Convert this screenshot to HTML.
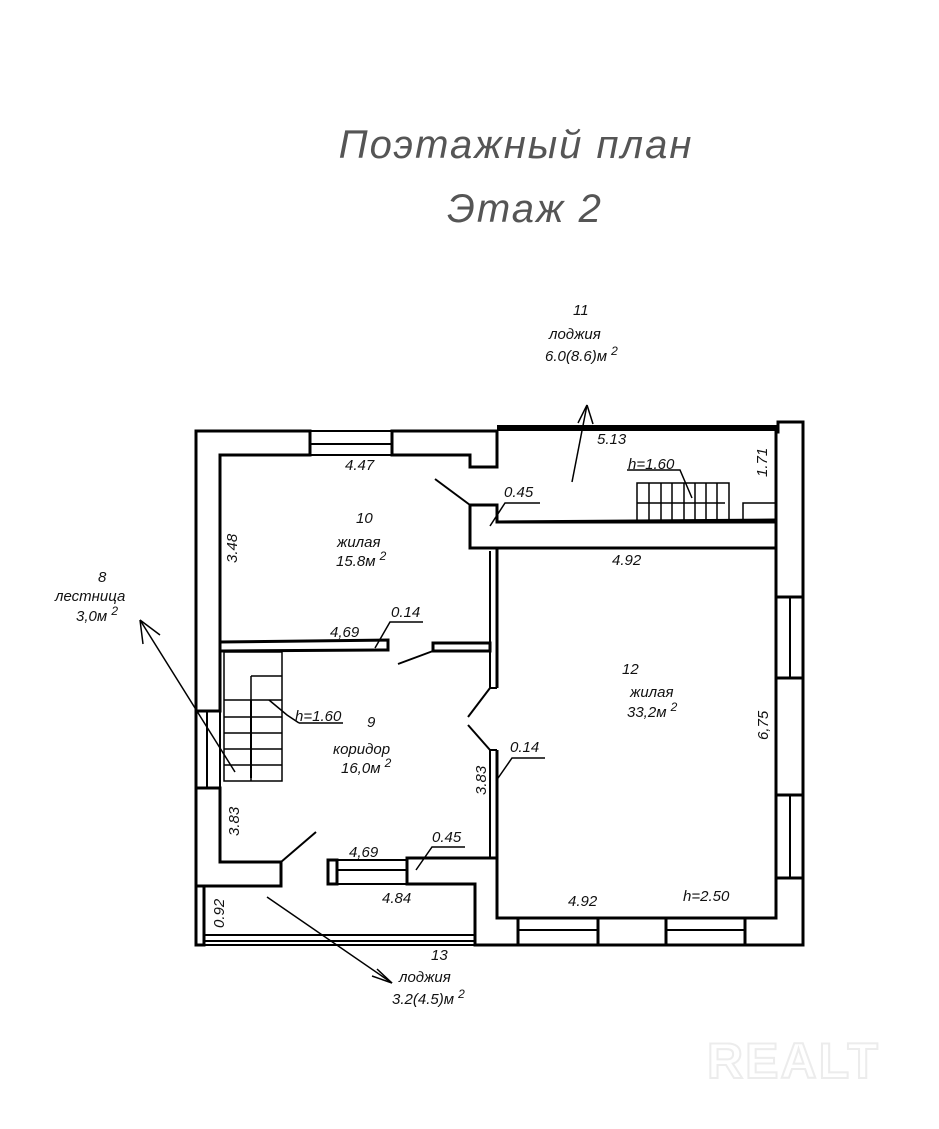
<!DOCTYPE html>
<html><head><meta charset="utf-8"><style>
html,body{margin:0;padding:0;background:#fff;}
svg{display:block;}
text{font-family:"Liberation Sans",sans-serif;font-style:italic;}
</style></head><body>
<svg width="939" height="1129" viewBox="0 0 939 1129" xmlns="http://www.w3.org/2000/svg">
<rect width="939" height="1129" fill="#fff"/>
<text x="516" y="158" font-size="40" text-anchor="middle" style="fill:#555;letter-spacing:2px">Поэтажный  план</text>
<text x="525" y="222" font-size="40" text-anchor="middle" style="fill:#555;letter-spacing:2px">Этаж 2</text>

<g fill="#fff" stroke="#000" stroke-width="3" stroke-linejoin="miter">
<polygon points="196,431 310,431 310,455 220,455 220,642 220,711 196,711"/>
<polygon points="392,431 497,431 497,467 470,467 470,455 392,455"/>
<polygon points="470,505 497,505 497,522 776,522 776,548 497,548 470,548"/>
<polygon points="778,422 803,422 803,597 776,597 776,548 776,522 776,432 778,432"/>
<polygon points="776,678 803,678 803,795 776,795"/>
<polygon points="776,878 803,878 803,945 745,945 745,918 776,918"/>
<polygon points="598,918 666,918 666,945 598,945"/>
<polygon points="407,858 497,858 497,918 518,918 518,945 475,945 475,884 407,884"/>
<polygon points="196,788 220,788 220,862 281,862 281,886 196,886"/>
<polygon points="196,886 204,886 204,945 196,945"/>
<polygon points="328,860 337,860 337,884 328,884"/>
<polygon points="220,642 388,640 388,650 220,651"/>
<polygon points="433,643 490,643 490,651 433,651"/>
</g>
<g stroke="#000" fill="none">
<line x1="497" y1="428" x2="778" y2="428" stroke-width="6"/>
<line x1="310" y1="431" x2="392" y2="431" stroke-width="2"/>
<line x1="310" y1="444" x2="392" y2="444" stroke-width="2"/>
<line x1="310" y1="455" x2="392" y2="455" stroke-width="2"/>
<line x1="490" y1="551" x2="490" y2="688" stroke-width="2"/>
<line x1="497" y1="548" x2="497" y2="688" stroke-width="3"/>
<line x1="490" y1="688" x2="497" y2="688" stroke-width="2"/>
<line x1="490" y1="750" x2="490" y2="858" stroke-width="2"/>
<line x1="497" y1="750" x2="497" y2="858" stroke-width="3"/>
<line x1="490" y1="750" x2="497" y2="750" stroke-width="2"/>
<line x1="497" y1="918" x2="776" y2="918" stroke-width="3"/>
<line x1="776" y1="597" x2="776" y2="678" stroke-width="3"/>
<line x1="790" y1="597" x2="790" y2="678" stroke-width="2"/>
<line x1="803" y1="597" x2="803" y2="678" stroke-width="3"/>
<line x1="776" y1="795" x2="776" y2="878" stroke-width="3"/>
<line x1="790" y1="795" x2="790" y2="878" stroke-width="2"/>
<line x1="803" y1="795" x2="803" y2="878" stroke-width="3"/>
<line x1="518" y1="930" x2="598" y2="930" stroke-width="2"/>
<line x1="518" y1="945" x2="598" y2="945" stroke-width="3"/>
<line x1="666" y1="930" x2="745" y2="930" stroke-width="2"/>
<line x1="666" y1="945" x2="745" y2="945" stroke-width="3"/>
<line x1="196" y1="711" x2="196" y2="788" stroke-width="3"/>
<line x1="207" y1="711" x2="207" y2="788" stroke-width="2"/>
<line x1="220" y1="711" x2="220" y2="788" stroke-width="2"/>
<line x1="204" y1="935" x2="475" y2="935" stroke-width="2"/>
<line x1="204" y1="941" x2="475" y2="941" stroke-width="2"/>
<line x1="196" y1="945" x2="475" y2="945" stroke-width="2"/>
<line x1="337" y1="870" x2="407" y2="870" stroke-width="2"/>
<line x1="337" y1="860" x2="407" y2="860" stroke-width="2"/>
<line x1="337" y1="884" x2="407" y2="884" stroke-width="2"/>
<line x1="497" y1="522" x2="776" y2="520" stroke-width="3"/>
<line x1="435" y1="479" x2="470" y2="505" stroke-width="2"/>
<line x1="398" y1="664" x2="433" y2="651" stroke-width="2"/>
<line x1="468" y1="717" x2="490" y2="688" stroke-width="2"/>
<line x1="468" y1="725" x2="490" y2="750" stroke-width="2"/>
<line x1="281" y1="862" x2="316" y2="832" stroke-width="2"/>
<rect x="224" y="652" width="58" height="129" stroke-width="1.5"/>
<line x1="251" y1="676" x2="282" y2="676" stroke-width="1.5"/>
<line x1="251" y1="676" x2="251" y2="781" stroke-width="1.5"/>
<line x1="224" y1="700" x2="282" y2="700" stroke-width="1.5"/>
<line x1="224" y1="717" x2="282" y2="717" stroke-width="1.5"/>
<line x1="224" y1="733" x2="282" y2="733" stroke-width="1.5"/>
<line x1="224" y1="749" x2="282" y2="749" stroke-width="1.5"/>
<line x1="224" y1="765" x2="282" y2="765" stroke-width="1.5"/>
<line x1="251" y1="700" x2="251" y2="778" stroke-width="2"/>
<rect x="637" y="483" width="92" height="38" stroke-width="1.5"/>
<g stroke-width="1.5">
<line x1="649" y1="483" x2="649" y2="521"/><line x1="661" y1="483" x2="661" y2="521"/>
<line x1="672" y1="483" x2="672" y2="521"/><line x1="684" y1="483" x2="684" y2="521"/>
<line x1="695" y1="483" x2="695" y2="521"/><line x1="706" y1="483" x2="706" y2="521"/>
<line x1="717" y1="483" x2="717" y2="521"/>
<line x1="637" y1="503" x2="725" y2="503"/>
<polyline points="743,520 743,503 776,503"/>
</g>
<g stroke-width="1.5">
<line x1="140" y1="620" x2="235" y2="772"/>
<line x1="140" y1="620" x2="160" y2="635"/><line x1="140" y1="620" x2="143" y2="644"/>
<line x1="267" y1="897" x2="392" y2="983"/>
<line x1="392" y1="983" x2="377" y2="969"/><line x1="392" y1="983" x2="372" y2="976"/>
<line x1="572" y1="482" x2="587" y2="405"/>
<line x1="587" y1="405" x2="578" y2="423"/><line x1="587" y1="405" x2="593" y2="424"/>
<polyline points="490,526 505,503 540,503"/>
<polyline points="375,648 390,622 423,622"/>
<polyline points="496,781 512,758 545,758"/>
<polyline points="416,870 432,847 465,847"/>
<polyline points="299,723 287,715 269,700"/>
<line x1="299" y1="723" x2="343" y2="723"/>
<polyline points="627,470 680,470 692,498"/>
</g>
</g>
<g font-size="15" style="fill:#111">
<text x="345" y="470">4.47</text>
<text x="356" y="523">10</text>
<text x="337" y="547">жилая</text>
<text x="336" y="566">15.8м <tspan font-size="12" dy="-6">2</tspan></text>
<text x="504" y="497">0.45</text>
<text x="597" y="444">5.13</text>
<text x="628" y="469">h=1.60</text>
<text x="612" y="565">4.92</text>
<text x="391" y="617">0.14</text>
<text x="330" y="637">4,69</text>
<text x="367" y="727">9</text>
<text x="333" y="754">коридор</text>
<text x="341" y="773">16,0м <tspan font-size="12" dy="-6">2</tspan></text>
<text x="295" y="721">h=1.60</text>
<text x="622" y="674">12</text>
<text x="630" y="697">жилая</text>
<text x="627" y="717">33,2м <tspan font-size="12" dy="-6">2</tspan></text>
<text x="510" y="752">0.14</text>
<text x="349" y="857">4,69</text>
<text x="432" y="842">0.45</text>
<text x="382" y="903">4.84</text>
<text x="568" y="906">4.92</text>
<text x="683" y="901">h=2.50</text>
<text x="431" y="960">13</text>
<text x="399" y="982">лоджия</text>
<text x="392" y="1004">3.2(4.5)м <tspan font-size="12" dy="-6">2</tspan></text>
<text x="573" y="315">11</text>
<text x="549" y="339">лоджия</text>
<text x="545" y="361">6.0(8.6)м <tspan font-size="12" dy="-6">2</tspan></text>
<text x="98" y="582">8</text>
<text x="55" y="601">лестница</text>
<text x="76" y="621">3,0м <tspan font-size="12" dy="-6">2</tspan></text>
<text transform="translate(237,563) rotate(-90)">3.48</text>
<text transform="translate(767,477) rotate(-90)">1.71</text>
<text transform="translate(768,740) rotate(-90)">6,75</text>
<text transform="translate(486,795) rotate(-90)">3.83</text>
<text transform="translate(239,836) rotate(-90)">3.83</text>
<text transform="translate(224,928) rotate(-90)">0.92</text>
</g>
<text x="707" y="1078" font-size="50" font-weight="bold" style="font-style:normal;fill:none;stroke:#ececec;stroke-width:2;letter-spacing:2px">REALT</text>
</svg>
</body></html>
